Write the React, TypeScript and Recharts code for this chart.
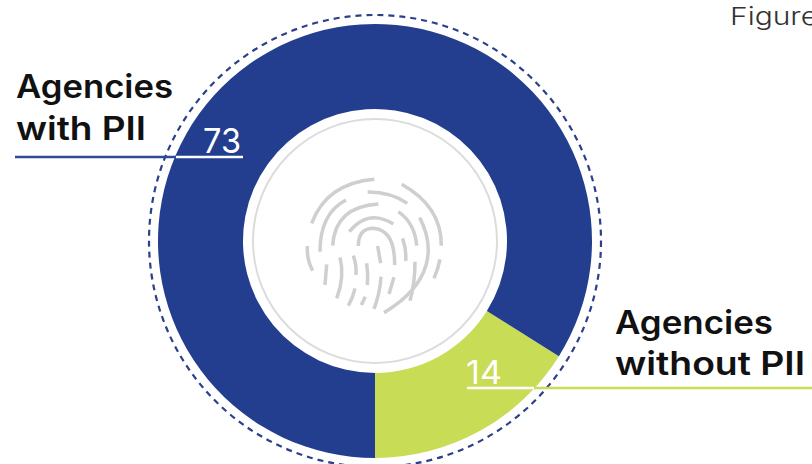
import React from "react";
import { PieChart, Pie, Cell } from "recharts";

const categories = ["Agencies without PII", "Agencies with PII"];
const agencyCounts = [14, 73];
const sliceColors = ["#c8dc55", "#233e8f"];

// Fingerprint ridges, drawn in a 3x local grid and scaled down around the hole of the donut
const ridgePaths = [
  "M155,220 Q200,100 343,88",
  "M425,103 Q545,170 544,287",
  "M323,126 Q390,125 442,160",
  "M258,150 Q180,190 180,305",
  "M218,287 Q225,170 355,162",
  "M415,185 Q465,220 470,287",
  "M479,203 C525,290 520,400 372,488",
  "M268,245 Q325,175 400,222",
  "M295,288 Q295,235 340,235 Q405,240 404,345",
  "M428,265 Q440,300 437,333",
  "M353,288 L362,340",
  "M142,288 Q140,330 158,362",
  "M200,343 L195,405",
  "M240,322 Q255,380 230,445",
  "M280,317 Q290,345 288,375",
  "M320,340 Q325,370 322,405",
  "M285,415 Q280,440 265,467",
  "M316,440 L304,465",
  "M363,380 Q360,430 342,477",
  "M402,382 L387,432",
  "M465,335 Q465,400 450,452",
  "M540,328 Q535,355 522,385",
];

const data = categories.map((name, i) => ({ name, value: agencyCounts[i] }));

const labelFont = "Inter, 'Noto Sans', sans-serif";

function Heading({ x, y, width, children }: { x: number; y: number; width: number; children: string }) {
  return (
    <text x={x} y={y} fontFamily={labelFont} fontWeight={600} fontSize={32} fill="#111" textLength={width} lengthAdjust="spacingAndGlyphs">
      {children}
    </text>
  );
}

export default function App() {
  return (
    <div style={{ position: "absolute", left: 0, top: 0, width: 812, height: 464, overflow: "hidden", background: "#fff" }}>
      <PieChart width={812} height={464} margin={{ top: 0, right: 0, bottom: 0, left: 0 }}>
        <Pie
          data={data}
          dataKey="value"
          nameKey="name"
          cx={375}
          cy={241}
          innerRadius={132}
          outerRadius={217}
          startAngle={-90}
          endAngle={270}
          stroke="none"
          isAnimationActive={false}
        >
          {data.map((d, i) => (
            <Cell key={d.name} fill={sliceColors[i]} />
          ))}
        </Pie>
      </PieChart>

      {/* Rings, callouts and artwork sit above the donut in their own layer */}
      <svg width={812} height={464} style={{ position: "absolute", left: 0, top: 0, pointerEvents: "none" }}>
        <circle cx={375} cy={241} r={226} fill="none" stroke="#2b3f8a" strokeWidth={2.2} strokeDasharray="6 5" />
        <circle cx={375} cy={241} r={122} fill="none" stroke="#dcdcdc" strokeWidth={2} />

        <g transform="translate(260,150) scale(0.3333)" fill="none" stroke="#cfcfcf" strokeWidth={10.5}>
          {ridgePaths.map((d) => (
            <path key={d} d={d} />
          ))}
        </g>

        <text x={730} y={25} fontFamily="Inter, sans-serif" fontWeight={300} fontSize={24} fill="#333" textLength={88} lengthAdjust="spacingAndGlyphs">Figure</text>

        <Heading x={16} y={98} width={157}>Agencies</Heading>
        <Heading x={16} y={140} width={130}>with PII</Heading>
        <text x={203} y={153} fontFamily={labelFont} fontWeight={400} fontSize={34} fill="#fff" textLength={38} lengthAdjust="spacingAndGlyphs">{agencyCounts[1]}</text>
        <line x1={15} x2={176} y1={157} y2={157} stroke="#2f4a9c" strokeWidth={2.6} />
        <line x1={176} x2={243} y1={157} y2={157} stroke="#fff" strokeWidth={2.6} />

        <Heading x={615} y={334} width={158}>Agencies</Heading>
        <Heading x={615} y={375} width={190}>without PII</Heading>
        <text x={466} y={384} fontFamily={labelFont} fontWeight={400} fontSize={32} fill="#fff" textLength={36} lengthAdjust="spacingAndGlyphs">{agencyCounts[0]}</text>
        <line x1={467} x2={534} y1={388} y2={388} stroke="#fff" strokeWidth={2.6} />
        <line x1={534} x2={812} y1={388} y2={388} stroke="#c8dc55" strokeWidth={2.6} />
      </svg>
    </div>
  );
}
